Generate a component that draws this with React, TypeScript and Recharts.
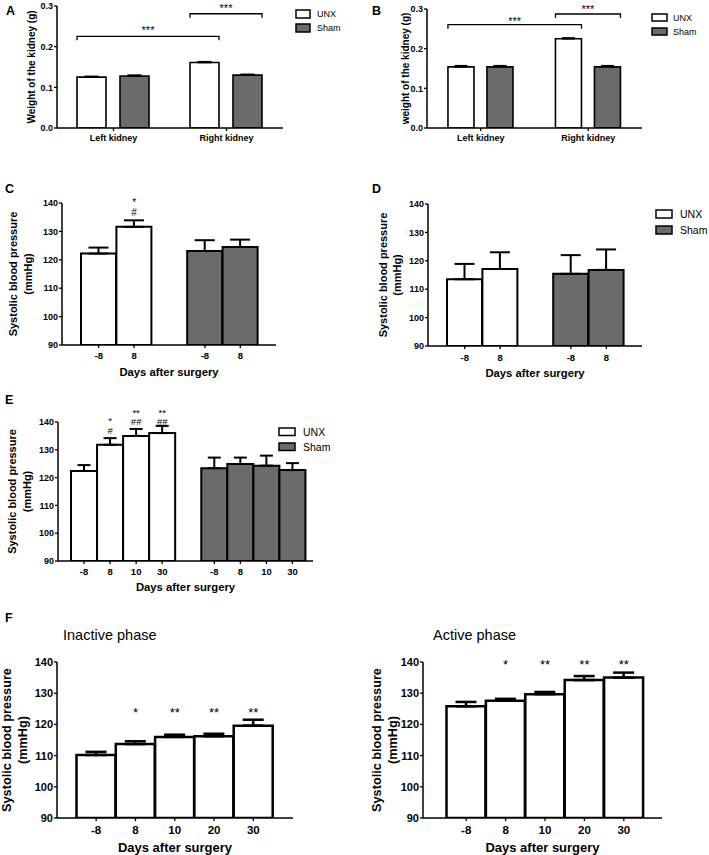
import React from 'react';
import { BarChart, Bar, XAxis, YAxis, ErrorBar, Cell, ReferenceLine, ReferenceDot, Label } from 'recharts';

const FONT = '"Liberation Sans", Arial, Helvetica, sans-serif';
const INK = '#000000';
const UNX_FILL = '#ffffff';
const SHAM_FILL = '#6b6b6b';

// ─── Data ────────────────────────────────────────────────────────────────────

const groups = ['UNX', 'Sham'];
const kidneySides = ['Left kidney', 'Right kidney'];

// A — kidney weight (g)
const weightA_UNX = [0.125, 0.161];
const weightA_UNXErr = [0.002, 0.002];
const weightA_Sham = [0.128, 0.13];
const weightA_ShamErr = [0.002, 0.002];
// bracket: from [side, group] to [side, group], bracket height, star height
const bracketsA = [
  { from: [0, 0], to: [1, 0], y: 0.2255, starY: 0.2476, mark: '***' },
  { from: [1, 0], to: [1, 1], y: 0.281, starY: 0.3015, mark: '***' },
];

// B — kidney weight (g)
const weightB_UNX = [0.154, 0.225];
const weightB_UNXErr = [0.003, 0.002];
const weightB_Sham = [0.154, 0.154];
const weightB_ShamErr = [0.003, 0.003];
const bracketsB = [
  { from: [0, 0], to: [1, 0], y: 0.2604, starY: 0.277, mark: '***' },
  { from: [1, 0], to: [1, 1], y: 0.2874, starY: 0.3066, mark: '***' },
];

// C / D — systolic BP, days -8 and 8
const days2 = ['-8', '8'];
const sbpC_UNX = [122.2, 131.6];
const sbpC_UNXErr = [2.1, 2.3];
const sbpC_Sham = [123.1, 124.5];
const sbpC_ShamErr = [3.8, 2.6];
const marksC = [{ at: 'UNX 8', level: 136.8, mark: '*\n#' }];

const sbpD_UNX = [113.5, 117.1];
const sbpD_UNXErr = [5.4, 5.9];
const sbpD_Sham = [115.4, 116.8];
const sbpD_ShamErr = [6.6, 7.2];

// E — systolic BP, days -8..30
const days4 = ['-8', '8', '10', '30'];
const sbpE_UNX = [122.4, 131.8, 135.0, 136.0];
const sbpE_UNXErr = [2.1, 2.4, 2.5, 2.6];
const sbpE_Sham = [123.4, 124.9, 124.3, 122.7];
const sbpE_ShamErr = [3.8, 2.3, 3.6, 2.5];
const marksE = [
  { at: 'UNX 8', level: 137.2, mark: '*\n#' },
  { at: 'UNX 10', level: 140.3, mark: '**\n##' },
  { at: 'UNX 30', level: 140.3, mark: '**\n##' },
];

// F — inactive / active phase
const days5 = ['-8', '8', '10', '20', '30'];
const sbpInactive = [110.2, 113.7, 116.0, 116.2, 119.6];
const sbpInactiveErr = [1.0, 0.9, 0.7, 0.8, 1.9];
const sbpActive = [125.8, 127.6, 129.7, 134.2, 135.0];
const sbpActiveErr = [1.4, 0.6, 0.7, 1.3, 1.6];
const starsInactive = ['', '*', '**', '**', '**'];
const starsActive = ['', '*', '**', '**', '**'];
const starLevelInactive = 124.9;
const starLevelActive = 140.3;

const sbpTicks = [90, 100, 110, 120, 130, 140];
const weightTicks = [0, 0.1, 0.2, 0.3];

// ─── Helpers ─────────────────────────────────────────────────────────────────

type Row = { key: string; day: string; value: number | null; err: number[] | null; fill: string };
type Mark = { at: string; level: number; mark: string };

function buildRows(days: string[], unx: number[], unxErr: number[], sham?: number[], shamErr?: number[]): Row[] {
  const rows: Row[] = days.map((d, i) => ({ key: `UNX ${d}`, day: d, value: unx[i], err: [0, unxErr[i]], fill: UNX_FILL }));
  if (sham && shamErr) {
    rows.push({ key: 'gap', day: '', value: null, err: null, fill: 'none' });
    days.forEach((d, i) => rows.push({ key: `Sham ${d}`, day: d, value: sham[i], err: [0, shamErr[i]], fill: SHAM_FILL }));
  }
  return rows;
}

function starMarks(days: string[], stars: string[], level: number): Mark[] {
  return days.map((d, i) => ({ at: `UNX ${d}`, level, mark: stars[i] })).filter((m) => m.mark);
}

// stacked annotation; the last line sits on cy, earlier lines above it
function MarkText({ cx, cy, text, size, gap = 0 }: { cx: number; cy: number; text: string; size: number; gap?: number }) {
  const lines = text.split('\n');
  return (
    <text textAnchor="middle" dominantBaseline="central" fontSize={size} fontFamily={FONT} fill={INK}>
      {lines.map((l, k) => (
        <tspan key={k} x={cx} y={cy - (lines.length - 1 - k) * gap} dy={l.includes('*') ? size * 0.24 : 0}>{l}</tspan>
      ))}
    </text>
  );
}

function YTitle({ lines, xs, cy, size }: { lines: string[]; xs: number[]; cy: number; size: number }) {
  return (
    <g>
      {lines.map((l, i) => (
        <text key={i} x={xs[i]} y={cy} transform={`rotate(-90 ${xs[i]} ${cy})`} textAnchor="middle"
          dominantBaseline="central" fontSize={size} fontWeight="bold" fontFamily={FONT} fill={INK}>
          {l}
        </text>
      ))}
    </g>
  );
}

// ─── Kidney weight panel (A, B) ──────────────────────────────────────────────

interface KidneyProps {
  left: number; top: number; width: number; height: number;
  plotLeft: number; plotTop: number; plotRight: number; plotBottom: number;
  unx: number[]; unxErr: number[]; sham: number[]; shamErr: number[];
  brackets: typeof bracketsA;
  yTitle: string; yTitleX: number;
  gapPct: number; barGap: number; capHalf: number;
}

function KidneyPanel(p: KidneyProps) {
  const data = kidneySides.map((s, i) => ({
    side: s, unx: p.unx[i], unxErr: [0, p.unxErr[i]], sham: p.sham[i], shamErr: [0, p.shamErr[i]],
  }));
  // bar edges relative to the category centre, same rule recharts uses to lay out grouped bars
  const band = (p.plotRight - p.plotLeft) / kidneySides.length;
  const gapPx = band * p.gapPct;
  const barW = Math.floor((band - 2 * gapPx - p.barGap) / 2);
  const edgeOff = (grp: number, right: boolean) => -band / 2 + gapPx + grp * (barW + p.barGap) + (right ? barW : 0);
  const drop = 4;
  const midY = (p.plotTop + p.plotBottom) / 2;

  return (
    <div style={{ position: 'absolute', left: p.left, top: p.top, width: p.width, height: p.height }}>
      <BarChart width={p.width} height={p.height} data={data}
        margin={{ top: p.plotTop, right: p.width - p.plotRight, bottom: 0, left: 0 }}
        barCategoryGap={`${p.gapPct * 100}%`} barGap={p.barGap}>
        <XAxis dataKey="side" height={p.height - p.plotBottom} interval={0} tickLine={false} tickSize={0} tickMargin={0}
          axisLine={{ stroke: INK, strokeWidth: 1.5 }}
          tick={(t: any) => (
            <g>
              <line x1={t.x} x2={t.x} y1={t.y} y2={t.y + 3} stroke={INK} strokeWidth={1.3} />
              <text x={t.x} y={t.y + 10} textAnchor="middle" dominantBaseline="central" fontSize={9}
                fontWeight="bold" fontFamily={FONT} fill={INK}>{t.payload.value}</text>
            </g>
          )} />
        <YAxis width={p.plotLeft} domain={[0, 0.3]} ticks={weightTicks} interval={0} allowDataOverflow
          tickFormatter={(v: number) => v.toFixed(1)} tickSize={3} tickMargin={1}
          axisLine={{ stroke: INK, strokeWidth: 1.5 }} tickLine={{ stroke: INK, strokeWidth: 1.3 }}
          tick={{ fill: INK, fontSize: 9, fontWeight: 'bold', fontFamily: FONT }}>
          <Label content={() => <YTitle lines={[p.yTitle]} xs={[p.yTitleX]} cy={midY} size={10} />} />
        </YAxis>
        <Bar dataKey="unx" name={groups[0]} fill={UNX_FILL} stroke={INK} strokeWidth={1.6} isAnimationActive={false}>
          <ErrorBar dataKey="unxErr" width={p.capHalf} stroke={INK} strokeWidth={1.6} direction="y" />
        </Bar>
        <Bar dataKey="sham" name={groups[1]} fill={SHAM_FILL} stroke={INK} strokeWidth={1.6} isAnimationActive={false}>
          <ErrorBar dataKey="shamErr" width={p.capHalf} stroke={INK} strokeWidth={1.6} direction="y" />
        </Bar>
        {p.brackets.map((b, i) => {
          const offA = edgeOff(b.from[1], false);
          const offB = edgeOff(b.to[1], true);
          const ends = (y: number) => [{ x: kidneySides[b.from[0]], y }, { x: kidneySides[b.to[0]], y }];
          return (
            <React.Fragment key={i}>
              <ReferenceLine ifOverflow="visible" segment={ends(b.y)}
                shape={(s: any) => (
                  <path d={`M${s.x1 + offA},${s.y1 + drop}V${s.y1}H${s.x2 + offB}V${s.y2 + drop}`}
                    fill="none" stroke={INK} strokeWidth={1.3} />
                )} />
              <ReferenceLine ifOverflow="visible" segment={ends(b.starY)}
                shape={(s: any) => (
                  <MarkText cx={(s.x1 + offA + s.x2 + offB) / 2} cy={s.y1} text={b.mark} size={11} />
                )} />
            </React.Fragment>
          );
        })}
      </BarChart>
    </div>
  );
}

// ─── Systolic blood pressure panel (C, D, E, F) ─────────────────────────────

interface SbpProps {
  left: number; top: number; width: number; height: number;
  plotLeft: number; plotTop: number; plotRight: number; plotBottom: number;
  padLeft: number; padRight: number;
  rows: Row[]; marks: Mark[];
  yTitleX: number[];
  fs: { yTick: number; xTick: number; title: number; yTitle: number; mark: number; markGap: number };
  tickOff: number; titleOff: number; stroke: number; capHalf: number;
}

function SbpPanel(p: SbpProps) {
  const dayOf: Record<string, string> = {};
  p.rows.forEach((r) => (dayOf[r.key] = r.day));
  const midY = (p.plotTop + p.plotBottom) / 2;
  const midX = (p.plotLeft + p.plotRight) / 2;

  return (
    <div style={{ position: 'absolute', left: p.left, top: p.top, width: p.width, height: p.height }}>
      <BarChart width={p.width} height={p.height} data={p.rows}
        margin={{ top: p.plotTop, right: p.width - p.plotRight, bottom: 0, left: 0 }}
        barCategoryGap={0} barGap={0}>
        <XAxis dataKey="key" height={p.height - p.plotBottom} padding={{ left: p.padLeft, right: p.padRight }}
          interval={0} tickLine={false} tickSize={0} tickMargin={0} axisLine={{ stroke: INK, strokeWidth: 1.5 }}
          tick={(t: any) => {
            const day = dayOf[t.payload.value];
            return (
              <g>
                {day ? <line x1={t.x} x2={t.x} y1={t.y} y2={t.y + 3} stroke={INK} strokeWidth={1.3} /> : null}
                {day ? (
                  <text x={t.x} y={t.y + p.tickOff} textAnchor="middle" dominantBaseline="central"
                    fontSize={p.fs.xTick} fontWeight="bold" fontFamily={FONT} fill={INK}>{day}</text>
                ) : null}
              </g>
            );
          }}>
          <Label content={() => (
            <text x={midX} y={p.plotBottom + p.titleOff} textAnchor="middle" dominantBaseline="central"
              fontSize={p.fs.title} fontWeight="bold" fontFamily={FONT} fill={INK}>Days after surgery</text>
          )} />
        </XAxis>
        <YAxis width={p.plotLeft} domain={[90, 140]} ticks={sbpTicks} interval={0} allowDataOverflow
          tickSize={3} tickMargin={1} axisLine={{ stroke: INK, strokeWidth: 1.5 }}
          tickLine={{ stroke: INK, strokeWidth: 1.3 }}
          tick={{ fill: INK, fontSize: p.fs.yTick, fontWeight: 'bold', fontFamily: FONT }}>
          <Label content={() => (
            <YTitle lines={['Systolic blood pressure', '(mmHg)']} xs={p.yTitleX} cy={midY} size={p.fs.yTitle} />
          )} />
        </YAxis>
        <Bar dataKey="value" stroke={INK} strokeWidth={p.stroke} isAnimationActive={false}>
          {p.rows.map((r) => <Cell key={r.key} fill={r.fill} />)}
          <ErrorBar dataKey="err" width={p.capHalf} stroke={INK} strokeWidth={p.stroke} direction="y" />
        </Bar>
        {p.marks.map((m, i) => (
          <ReferenceDot key={i} x={m.at} y={m.level} r={0} ifOverflow="visible"
            shape={(d: any) => <MarkText cx={d.cx} cy={d.cy} text={m.mark} size={p.fs.mark} gap={p.fs.markGap} />} />
        ))}
      </BarChart>
    </div>
  );
}

// ─── Letters, titles, legends ────────────────────────────────────────────────

const letters = [
  { t: 'A', x: 6, y: 15 }, { t: 'B', x: 372, y: 14.5 }, { t: 'C', x: 5, y: 193 },
  { t: 'D', x: 372, y: 193 }, { t: 'E', x: 5, y: 403.5 }, { t: 'F', x: 5, y: 622 },
];
const legends = [
  { x: 296, y: 10, w: 14, h: 8, gap: 14, tx: 317, fs: 9 },
  { x: 652, y: 14, w: 15, h: 7, gap: 14, tx: 673, fs: 9 },
  { x: 656, y: 210, w: 16, h: 8, gap: 16, tx: 680, fs: 10.5 },
  { x: 279, y: 428, w: 16, h: 7.5, gap: 15, tx: 303, fs: 10.5 },
];

function Overlay() {
  return (
    <svg width={709} height={855} style={{ position: 'absolute', left: 0, top: 0, pointerEvents: 'none' }}>
      {letters.map((l) => (
        <text key={l.t} x={l.x} y={l.y} fontSize={12.5} fontWeight="bold" fontFamily={FONT} fill={INK}>{l.t}</text>
      ))}
      <text x={63} y={640} fontSize={14.5} fontFamily={FONT} fill={INK}>Inactive phase</text>
      <text x={433} y={640} fontSize={14.5} fontFamily={FONT} fill={INK}>Active phase</text>
      {legends.map((lg, i) => (
        <g key={i}>
          {groups.map((g, j) => (
            <g key={g}>
              <rect x={lg.x} y={lg.y + j * lg.gap} width={lg.w} height={lg.h} fill={j === 0 ? UNX_FILL : SHAM_FILL}
                stroke={INK} strokeWidth={1.5} />
              <text x={lg.tx} y={lg.y + j * lg.gap + lg.h / 2} dominantBaseline="central" fontSize={lg.fs}
                fontFamily={FONT} fill={INK}>{g}</text>
            </g>
          ))}
        </g>
      ))}
    </svg>
  );
}

export default function App() {
  const fsC = { yTick: 9, xTick: 9.5, title: 11.3, yTitle: 11, mark: 10, markGap: 12.5 };
  const fsE = { yTick: 9, xTick: 9.5, title: 11.3, yTitle: 11, mark: 9.5, markGap: 11.6 };
  const fsF = { yTick: 11, xTick: 11.5, title: 13, yTitle: 12.7, mark: 13, markGap: 0 };
  return (
    <div style={{ position: 'absolute', left: 0, top: 0, width: 709, height: 855, background: '#fff', overflow: 'hidden', fontFamily: FONT }}>
      <KidneyPanel left={0} top={-20} width={350} height={170} plotLeft={57} plotTop={26} plotRight={283} plotBottom={148}
        unx={weightA_UNX} unxErr={weightA_UNXErr} sham={weightA_Sham} shamErr={weightA_ShamErr}
        brackets={bracketsA} yTitle="Weight of the kidney (g)" yTitleX={31} gapPct={0.177} barGap={14} capHalf={7} />
      <KidneyPanel left={350} top={-20} width={359} height={170} plotLeft={77} plotTop={29} plotRight={292} plotBottom={148}
        unx={weightB_UNX} unxErr={weightB_UNXErr} sham={weightB_Sham} shamErr={weightB_ShamErr}
        brackets={bracketsB} yTitle="weight of the kidney (g)" yTitleX={55} gapPct={0.195} barGap={13} capHalf={6.5} />

      <SbpPanel left={0} top={180} width={350} height={200} plotLeft={62} plotTop={23} plotRight={276} plotBottom={165}
        padLeft={19} padRight={18} rows={buildRows(days2, sbpC_UNX, sbpC_UNXErr, sbpC_Sham, sbpC_ShamErr)} marks={marksC}
        yTitleX={[13, 28]} fs={fsC} tickOff={10.5} titleOff={27} stroke={2} capHalf={10} />
      <SbpPanel left={350} top={180} width={359} height={200} plotLeft={78} plotTop={24} plotRight={292} plotBottom={166}
        padLeft={19} padRight={18} rows={buildRows(days2, sbpD_UNX, sbpD_UNXErr, sbpD_Sham, sbpD_ShamErr)} marks={[]}
        yTitleX={[33, 47]} fs={fsC} tickOff={11.5} titleOff={27} stroke={2} capHalf={10} />

      <SbpPanel left={0} top={395} width={350} height={210} plotLeft={58} plotTop={27} plotRight={313} plotBottom={166}
        padLeft={13} padRight={7.5} rows={buildRows(days4, sbpE_UNX, sbpE_UNXErr, sbpE_Sham, sbpE_ShamErr)} marks={marksE}
        yTitleX={[12, 27]} fs={fsE} tickOff={10.3} titleOff={26} stroke={2} capHalf={6.5} />

      <SbpPanel left={0} top={620} width={355} height={235} plotLeft={57} plotTop={42} plotRight={293} plotBottom={198}
        padLeft={19.5} padRight={20} rows={buildRows(days5, sbpInactive, sbpInactiveErr)}
        marks={starMarks(days5, starsInactive, starLevelInactive)}
        yTitleX={[7, 23]} fs={fsF} tickOff={12.4} titleOff={29} stroke={2.5} capHalf={10.5} />
      <SbpPanel left={355} top={620} width={354} height={235} plotLeft={68} plotTop={42} plotRight={307} plotBottom={198}
        padLeft={23.5} padRight={18.5} rows={buildRows(days5, sbpActive, sbpActiveErr)}
        marks={starMarks(days5, starsActive, starLevelActive)}
        yTitleX={[22, 37.5]} fs={fsF} tickOff={12.4} titleOff={29} stroke={2.5} capHalf={10.5} />

      <Overlay />
    </div>
  );
}
